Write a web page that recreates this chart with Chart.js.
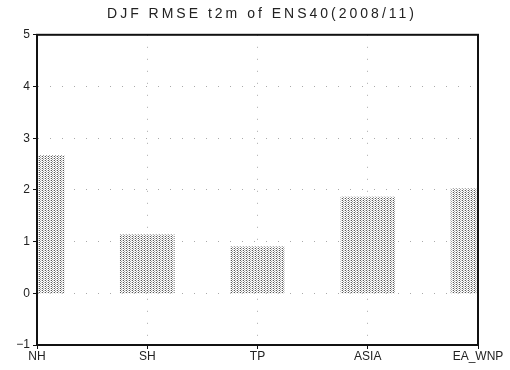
<!DOCTYPE html>
<html>
<head>
<meta charset="utf-8">
<script src="https://cdn.jsdelivr.net/npm/chart.js@4/dist/chart.umd.min.js"></script>
<style>
html,body{margin:0;padding:0;background:#fff;}
#wrap{width:510px;height:370px;}
</style>
</head>
<body>
<div id="wrap"><canvas id="c" width="510" height="370"></canvas></div>
<script>
const categories = ["NH", "SH", "TP", "ASIA", "EA_WNP"];
const rmseValues = [2.67, 1.13, 0.90, 1.86, 2.02];
const yTicks = [-1, 0, 1, 2, 3, 4, 5];
const titleText = "DJF RMSE t2m of ENS40(2008/11)";

// stipple pattern for bars
const pc = document.createElement('canvas');
pc.width = 3; pc.height = 2;
const pctx = pc.getContext('2d');
pctx.fillStyle = '#fff'; pctx.fillRect(0,0,3,2);
pctx.fillStyle = '#5a5a5a'; pctx.fillRect(0,0,1,1);
pctx.fillStyle = '#a0a0a0'; pctx.fillRect(1,1,1,1);
pctx.fillStyle = '#d0d0d0'; pctx.fillRect(2,0,1,1);
const ctx = document.getElementById('c').getContext('2d');
const pattern = ctx.createPattern(pc, 'repeat');

const helper = {
  id: 'helper',
  beforeDraw(chart){ chart.ctx.letterSpacing = '3px'; },
  beforeDatasetsDraw(chart){ chart.ctx.letterSpacing = '0px'; },
  afterDatasetsDraw(chart){
    const a = chart.chartArea, c = chart.ctx;
    c.save();
    c.strokeStyle = '#111';
    c.lineWidth = 2;
    c.strokeRect(a.left, a.top, a.right - a.left, a.bottom - a.top);
    c.restore();
  }
};

const tickFont = {family: 'Liberation Sans', size: 12};

new Chart(ctx, {
  type: 'bar',
  data: {
    datasets: [{
      data: categories.map((c, i) => ({x: i, y: [0, rmseValues[i]]})),
      backgroundColor: pattern,
      borderWidth: 0,
      barThickness: 54,
      clip: 0
    }]
  },
  options: {
    responsive: false,
    animation: false,
    devicePixelRatio: 1,
    layout: {padding: {left: 14, right: 0, top: 0, bottom: 0}},
    plugins: {
      legend: {display: false},
      tooltip: {enabled: false},
      title: {
        display: true,
        text: titleText,
        color: '#222',
        font: {family: 'Liberation Sans', size: 14, weight: 'normal'},
        padding: {top: 6, bottom: 12}
      }
    },
    scales: {
      x: {
        type: 'linear',
        min: 0, max: 4,
        offset: false,
        afterFit(s){ s.height = 25; },
        afterBuildTicks(s){ s.ticks = categories.map((c, i) => ({value: i})); },
        ticks: {
          z: 1,
          autoSkip: false,
          maxRotation: 0,
          padding: 0,
          color: '#222',
          font: tickFont,
          callback: (v) => categories[v]
        },
        grid: {
          offset: false,
          color: '#aaa',
          lineWidth: 1,
          tickLength: 4,
          tickColor: '#111',
          tickWidth: 1
        },
        border: {display: true, color: '#111', width: 2, dash: [1, 11], z: 1}
      },
      y: {
        type: 'linear',
        min: -1, max: 5,
        afterFit(s){ s.width = 23; },
        afterBuildTicks(s){ s.ticks = yTicks.map(v => ({value: v})); },
        ticks: {
          z: 1,
          padding: 3,
          color: '#222',
          font: tickFont,
          callback: (v) => (v < 0 ? '\u2212' + Math.abs(v) : String(v))
        },
        grid: {
          color: '#aaa',
          lineWidth: 1,
          tickLength: 4,
          tickColor: '#111',
          tickWidth: 1
        },
        border: {display: true, color: '#111', width: 2, dash: [1, 11], z: 1}
      },
      yRight: {
        type: 'linear',
        position: 'right',
        min: -1, max: 5,
        afterFit(s){ s.width = 32; },
        ticks: {display: false},
        grid: {display: false, drawTicks: false},
        border: {display: false}
      }
    }
  },
  plugins: [helper]
});
</script>
</body>
</html>
